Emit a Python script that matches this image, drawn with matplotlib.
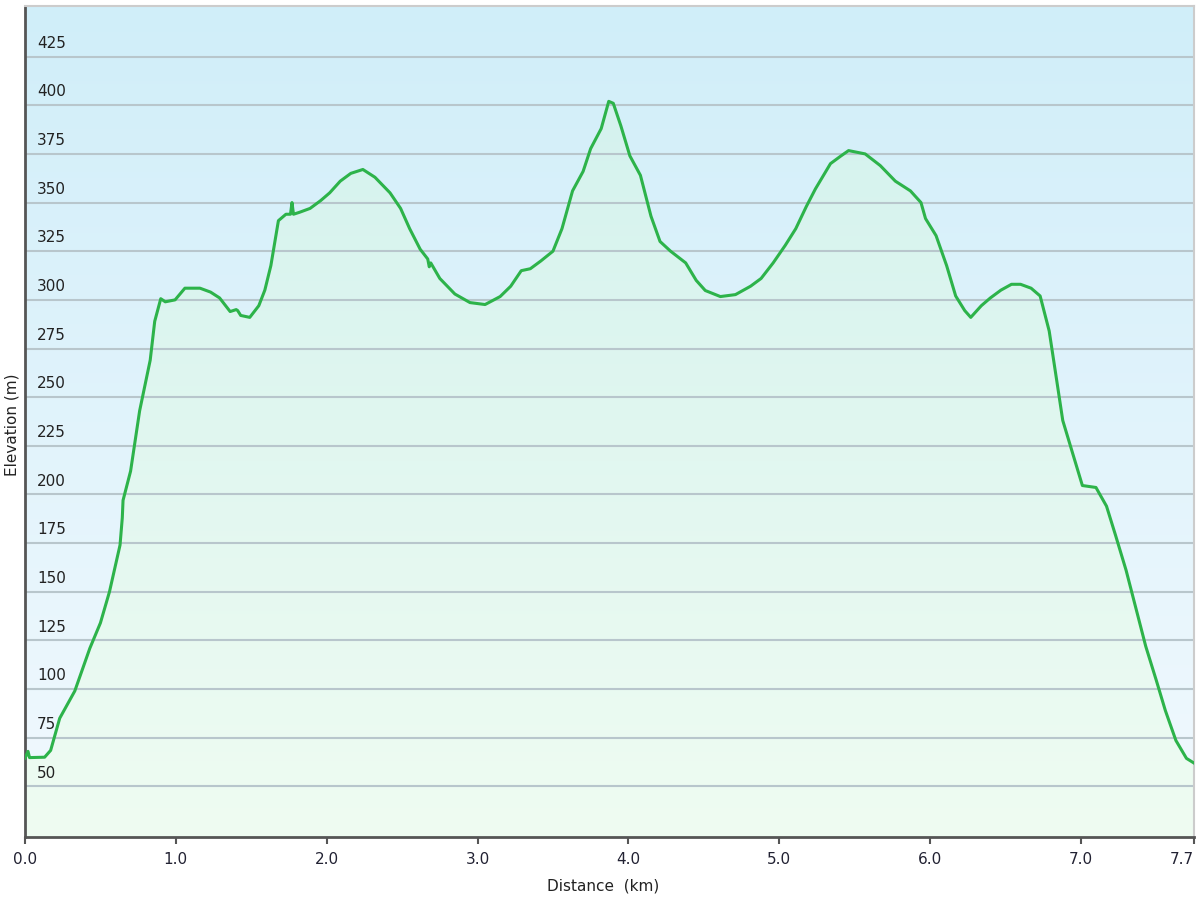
import numpy as np
import matplotlib.pyplot as plt
from matplotlib.colors import LinearSegmentedColormap

# distance (km) and elevation (m)
dist = [0.00, 0.02, 0.03, 0.13, 0.17, 0.23, 0.33, 0.43, 0.50, 0.56, 0.63, 0.645, 0.65,
        0.70, 0.76, 0.83, 0.86, 0.90, 0.93, 0.995, 1.06, 1.16, 1.23, 1.29, 1.36,
        1.40, 1.41, 1.43, 1.49, 1.55, 1.59, 1.63, 1.68, 1.73, 1.76, 1.77, 1.78,
        1.82, 1.89, 1.96, 2.02, 2.09, 2.16, 2.24, 2.32, 2.42, 2.49, 2.55, 2.62,
        2.67, 2.68, 2.69, 2.75, 2.85, 2.95, 3.05, 3.15, 3.22, 3.29, 3.35, 3.42,
        3.50, 3.56, 3.63, 3.70, 3.75, 3.82, 3.87, 3.90, 3.95, 4.01, 4.08, 4.15,
        4.21, 4.28, 4.38, 4.45, 4.51, 4.61, 4.71, 4.81, 4.88, 4.96, 5.04, 5.11,
        5.18, 5.24, 5.34, 5.41, 5.46, 5.57, 5.67, 5.77, 5.87, 5.94, 5.97, 6.04,
        6.11, 6.17, 6.23, 6.27, 6.34, 6.40, 6.47, 6.54, 6.60, 6.67, 6.73, 6.79,
        6.84, 6.88, 6.95, 7.01, 7.10, 7.17, 7.23, 7.30, 7.37, 7.43, 7.50, 7.56,
        7.63, 7.70, 7.75]
elev = [64.5, 68, 64.8, 65, 68.5, 85, 99, 121, 134, 150, 174, 188, 197,
        212, 243, 269, 289, 300.6, 299, 300, 306, 306, 304, 301, 294,
        295, 294.5, 292, 291, 297, 305, 317.6, 340.7, 344, 344, 350, 344,
        345, 347, 351, 355, 361, 365, 367, 363, 355, 347, 336.6, 326,
        321, 317, 319, 311, 303, 298.6, 297.6, 301.7, 307, 315, 316, 320,
        325, 336.6, 356, 366, 377.7, 388, 402, 401, 389.5, 374, 364, 343,
        330, 325, 319, 310, 304.8, 301.7, 302.7, 307, 311, 319, 328, 336.6,
        348, 357, 370, 374, 376.7, 375, 369, 361, 356, 350, 341.8, 333,
        317.6, 302, 294.5, 291, 297, 301, 305, 308, 308, 306, 302, 284,
        258.5, 238, 220, 204.6, 203.6, 194, 179, 161, 140, 122, 104.5, 89,
        73.6, 64.4, 62]

yticks = [50, 75, 100, 125, 150, 175, 200, 225, 250, 275, 300, 325, 350, 375, 400, 425]
xticks = [0, 1, 2, 3, 4, 5, 6, 7, 7.75]
xtick_labels = ['0.0', '1.0', '2.0', '3.0', '4.0', '5.0', '6.0', '7.0', '7.7']

fig = plt.figure(figsize=(12, 9), dpi=100)
ax = fig.add_axes([25 / 1200, 63 / 900, 1169 / 1200, 831 / 900])
xmin, xmax, ymin, ymax = 0, 7.75, 24, 451
ax.set_xlim(xmin, xmax)
ax.set_ylim(ymin, ymax)

# background gradient (light blue at top, almost white at bottom)
bg = LinearSegmentedColormap.from_list('bg', ['#f2f9fe', '#d0eef9'])
grad = np.linspace(0, 1, 256).reshape(-1, 1)
ax.imshow(grad, cmap=bg, origin='lower', aspect='auto',
          extent=[xmin, xmax, ymin, ymax], zorder=0)

# green gradient fill under the profile
fg = LinearSegmentedColormap.from_list('fg', ['#effcf2', '#d4f2ee'])
poly = ax.fill_between(dist, elev, ymin, color='none', zorder=1)
im = ax.imshow(grad, cmap=fg, origin='lower', aspect='auto',
               extent=[xmin, xmax, ymin, 410], zorder=1)
im.set_clip_path(poly.get_paths()[0], transform=ax.transData)

for y in yticks:
    ax.axhline(y, color='#b8c6cc', lw=1.5, zorder=2)

ax.plot(dist, elev, color='#2db34a', lw=2.2, zorder=3, solid_joinstyle='round')

ax.set_yticks([])
for y in yticks:
    ax.text(12 / 1169, y + 3, str(y), transform=ax.get_yaxis_transform(),
            fontsize=11, color='#222222', va='bottom', ha='left', zorder=4)

ax.set_xticks(xticks)
ax.set_xticklabels(xtick_labels, fontsize=11, color='#222233')
ax.get_xticklabels()[-1].set_horizontalalignment('right')
ax.tick_params(axis='x', length=5, width=1.5, color='#555555', pad=6)

for s in ['left', 'bottom']:
    ax.spines[s].set_color('#555555')
    ax.spines[s].set_linewidth(2)
for s in ['top', 'right']:
    ax.spines[s].set_color('#cccccc')
    ax.spines[s].set_linewidth(1.5)

fig.text(12 / 1200, 1 - 425 / 900, 'Elevation (m)', rotation=90, fontsize=11,
         ha='center', va='center', color='#222222')
fig.text(603 / 1200, 1 - 886 / 900, 'Distance  (km)', fontsize=11,
         ha='center', va='center', color='#222222')

fig.savefig('out.png', dpi=100)
